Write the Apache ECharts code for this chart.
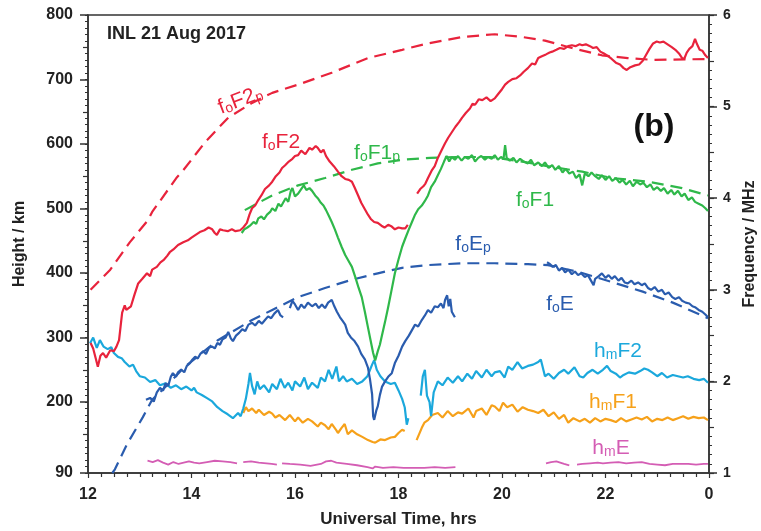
<!DOCTYPE html>
<html>
<head>
<meta charset="utf-8">
<script src="https://cdn.jsdelivr.net/npm/echarts@6/dist/echarts.min.js"></script>
<style>html,body{margin:0;padding:0;background:#fff}#c{width:761px;height:531px}</style>
</head>
<body>
<div id="c"></div>
<script>
// ---- tick definitions ----
const hourTicks = [12, 14, 16, 18, 20, 22, 24];
const heightMajorTicks = [90, 200, 300, 400, 500, 600, 700, 800];
const heightMidTicks = [150, 250, 350, 450, 550, 650, 750];

// ---- frequency series (MHz, right axis) : [UT hour, value] ----
const foF2p = [[12.05,3.0],[12.43,3.22],[12.81,3.52],[13.16,3.76],[13.24,3.85],[13.72,4.23],[13.82,4.29],[14.26,4.61],[14.71,4.88],[15.17,5.04],[15.56,5.15],[16.06,5.24],[16.71,5.37],[17.41,5.53],[18.07,5.62],[18.57,5.69],[19.23,5.76],[19.86,5.79],[20.39,5.76],[20.83,5.72],[21.35,5.64],[21.93,5.56],[22.43,5.53],[22.92,5.51],[23.98,5.52]];

const foF2 = [[12.05,2.42],[12.1,2.36],[12.15,2.25],[12.19,2.16],[12.24,2.28],[12.29,2.31],[12.35,2.26],[12.43,2.34],[12.5,2.33],[12.55,2.38],[12.6,2.45],[12.63,2.6],[12.66,2.75],[12.71,2.83],[12.74,2.78],[12.77,2.76],[12.83,2.82],[12.9,2.95],[12.97,3.07],[13.05,3.12],[13.14,3.18],[13.2,3.15],[13.24,3.22],[13.33,3.25],[13.4,3.3],[13.47,3.33],[13.53,3.37],[13.58,3.41],[13.65,3.44],[13.74,3.49],[13.84,3.52],[13.93,3.54],[14.0,3.57],[14.08,3.6],[14.16,3.63],[14.25,3.65],[14.33,3.68],[14.4,3.66],[14.45,3.62],[14.49,3.6],[14.55,3.66],[14.61,3.65],[14.7,3.64],[14.78,3.66],[14.85,3.64],[14.94,3.65],[15.0,3.68],[15.07,3.73],[15.12,3.82],[15.17,3.89],[15.23,3.92],[15.29,3.98],[15.35,4.03],[15.42,4.1],[15.5,4.14],[15.56,4.18],[15.63,4.24],[15.7,4.28],[15.75,4.33],[15.81,4.36],[15.88,4.4],[15.95,4.43],[16.0,4.46],[16.06,4.47],[16.12,4.52],[16.2,4.48],[16.28,4.55],[16.33,4.53],[16.4,4.57],[16.44,4.55],[16.5,4.5],[16.55,4.53],[16.6,4.46],[16.67,4.4],[16.75,4.35],[16.83,4.29],[16.9,4.24],[16.97,4.21],[17.04,4.2],[17.1,4.18],[17.15,4.12],[17.22,4.03],[17.28,3.95],[17.35,3.88],[17.41,3.82],[17.47,3.77],[17.53,3.74],[17.6,3.73],[17.67,3.7],[17.73,3.68],[17.8,3.71],[17.87,3.69],[17.93,3.66],[18.0,3.68],[18.07,3.67],[18.13,3.67],[18.18,3.71],[18.26,null],[18.36,4.05],[18.42,4.1],[18.48,4.13],[18.52,4.16],[18.57,4.22],[18.64,4.3],[18.7,4.35],[18.76,4.44],[18.83,4.52],[18.9,4.6],[18.96,4.66],[19.03,4.72],[19.1,4.78],[19.17,4.83],[19.23,4.88],[19.3,4.93],[19.38,4.98],[19.43,5.03],[19.48,5.02],[19.55,5.08],[19.62,5.07],[19.7,5.1],[19.78,5.06],[19.86,5.09],[19.93,5.14],[20.0,5.19],[20.06,5.24],[20.12,5.27],[20.2,5.3],[20.28,5.31],[20.35,5.34],[20.42,5.38],[20.5,5.42],[20.58,5.47],[20.64,5.46],[20.7,5.53],[20.77,5.55],[20.85,5.57],[20.92,5.59],[20.97,5.6],[21.05,5.62],[21.12,5.64],[21.2,5.63],[21.28,5.66],[21.35,5.67],[21.42,5.66],[21.5,5.68],[21.55,5.67],[21.62,5.68],[21.7,5.66],[21.76,5.64],[21.83,5.65],[21.9,5.6],[21.97,5.58],[22.05,5.55],[22.12,5.52],[22.2,5.48],[22.28,5.46],[22.35,5.42],[22.41,5.4],[22.48,5.43],[22.57,5.45],[22.65,5.46],[22.72,5.5],[22.78,5.56],[22.85,5.63],[22.92,5.69],[22.99,5.71],[23.05,5.7],[23.12,5.71],[23.2,5.68],[23.28,5.65],[23.35,5.62],[23.42,5.58],[23.48,5.53],[23.52,5.52],[23.57,5.59],[23.62,5.63],[23.68,5.66],[23.73,5.74],[23.77,5.68],[23.82,5.62],[23.87,5.61],[23.93,5.56],[23.98,5.53]];

const foF1p = [[15.03,3.87],[15.56,4.03],[16.06,4.14],[16.58,4.22],[17.1,4.31],[17.6,4.38],[18.07,4.42],[18.61,4.44],[19.19,4.45],[19.77,4.45],[20.39,4.4],[20.97,4.34],[21.55,4.29],[22.13,4.22],[22.82,4.18],[23.48,4.11],[23.98,4.03]];

const foF1 = [[14.97,3.62],[15.02,3.66],[15.08,3.68],[15.13,3.7],[15.2,3.74],[15.25,3.72],[15.29,3.78],[15.35,3.8],[15.4,3.77],[15.46,3.82],[15.52,3.85],[15.56,3.89],[15.62,3.86],[15.68,3.94],[15.73,3.91],[15.77,3.95],[15.82,4.0],[15.87,3.96],[15.92,4.08],[15.95,4.11],[16.0,4.02],[16.06,4.05],[16.12,4.1],[16.17,4.14],[16.22,4.09],[16.28,4.11],[16.33,4.08],[16.39,4.03],[16.44,4.0],[16.5,3.95],[16.55,3.92],[16.6,3.87],[16.66,3.8],[16.71,3.74],[16.77,3.66],[16.83,3.57],[16.9,3.47],[16.97,3.38],[17.03,3.32],[17.1,3.25],[17.17,3.13],[17.23,3.02],[17.29,2.92],[17.35,2.76],[17.41,2.59],[17.46,2.45],[17.51,2.31],[17.55,2.23],[17.6,2.33],[17.64,2.4],[17.68,2.5],[17.74,2.65],[17.8,2.81],[17.86,2.98],[17.93,3.18],[18.0,3.33],[18.07,3.47],[18.13,3.56],[18.2,3.66],[18.26,3.74],[18.32,3.82],[18.38,3.88],[18.45,3.92],[18.51,3.97],[18.57,4.03],[18.63,4.12],[18.7,4.18],[18.76,4.25],[18.82,4.32],[18.88,4.4],[18.93,4.46],[18.98,4.4],[19.03,4.45],[19.09,4.42],[19.15,4.46],[19.22,4.41],[19.28,4.45],[19.35,4.43],[19.42,4.47],[19.48,4.4],[19.54,4.44],[19.6,4.46],[19.67,4.42],[19.73,4.45],[19.8,4.43],[19.86,4.47],[19.92,4.42],[19.98,4.45],[20.03,4.43],[20.06,4.58],[20.09,4.44],[20.15,4.41],[20.22,4.44],[20.28,4.39],[20.35,4.43],[20.42,4.4],[20.5,4.38],[20.56,4.42],[20.62,4.36],[20.7,4.39],[20.77,4.35],[20.83,4.39],[20.9,4.33],[20.97,4.36],[21.03,4.31],[21.1,4.35],[21.17,4.28],[21.23,4.32],[21.3,4.27],[21.37,4.29],[21.43,4.22],[21.5,4.26],[21.55,4.14],[21.6,4.27],[21.67,4.24],[21.73,4.28],[21.8,4.24],[21.87,4.21],[21.93,4.25],[22.0,4.2],[22.07,4.24],[22.13,4.19],[22.2,4.22],[22.27,4.17],[22.33,4.2],[22.4,4.15],[22.47,4.19],[22.53,4.13],[22.6,4.18],[22.67,4.15],[22.73,4.17],[22.8,4.12],[22.87,4.15],[22.93,4.09],[23.0,4.12],[23.07,4.08],[23.13,4.11],[23.2,4.05],[23.27,4.09],[23.33,4.04],[23.4,4.08],[23.47,4.02],[23.53,4.05],[23.6,3.98],[23.67,4.01],[23.73,3.96],[23.8,3.94],[23.87,3.92],[23.93,3.89],[23.98,3.86]];

const foEp = [[12.47,1.0],[12.52,1.04],[12.75,1.31],[13.06,1.61],[13.24,1.8],[13.48,1.93],[13.87,2.16],[14.51,2.45],[15.17,2.67],[15.56,2.78],[16.06,2.92],[16.58,3.02],[17.1,3.11],[17.6,3.18],[18.07,3.24],[18.57,3.27],[19.23,3.29],[19.86,3.29],[20.5,3.28],[20.89,3.27],[21.51,3.19],[22.09,3.09],[22.72,2.98],[23.3,2.86],[23.98,2.69]];

const foE = [[13.12,1.8],[13.2,1.82],[13.27,1.78],[13.33,1.88],[13.39,1.93],[13.45,1.9],[13.5,1.98],[13.55,1.95],[13.6,2.05],[13.64,2.09],[13.7,2.05],[13.74,2.1],[13.8,2.13],[13.86,2.1],[13.91,2.17],[13.97,2.2],[14.02,2.24],[14.07,2.27],[14.12,2.25],[14.17,2.3],[14.23,2.33],[14.28,2.3],[14.34,2.37],[14.4,2.38],[14.45,2.36],[14.5,2.42],[14.55,2.4],[14.6,2.46],[14.66,2.48],[14.71,2.54],[14.76,2.47],[14.8,2.44],[14.86,2.5],[14.92,2.53],[14.98,2.57],[15.04,2.55],[15.1,2.62],[15.17,2.64],[15.23,2.61],[15.3,2.66],[15.36,2.63],[15.42,2.67],[15.48,2.71],[15.54,2.69],[15.6,2.74],[15.67,2.78],[15.72,2.72],[15.77,2.7],[15.84,null],[15.9,2.8],[15.95,2.88],[16.0,2.84],[16.06,2.78],[16.12,2.84],[16.18,2.8],[16.25,2.86],[16.33,2.82],[16.4,2.85],[16.46,2.8],[16.52,2.84],[16.58,2.8],[16.64,2.86],[16.71,2.89],[16.76,2.82],[16.81,2.76],[16.87,2.7],[16.92,2.66],[16.97,2.62],[17.02,2.53],[17.08,2.48],[17.15,2.44],[17.22,2.38],[17.28,2.3],[17.35,2.24],[17.41,2.15],[17.45,2.02],[17.49,1.86],[17.51,1.62],[17.53,1.58],[17.57,1.68],[17.6,1.73],[17.64,1.85],[17.68,1.94],[17.74,2.0],[17.8,2.05],[17.87,2.09],[17.93,2.2],[18.0,2.28],[18.07,2.38],[18.13,2.44],[18.2,2.5],[18.26,2.56],[18.32,2.62],[18.38,2.6],[18.45,2.67],[18.51,2.72],[18.57,2.78],[18.63,2.75],[18.7,2.82],[18.76,2.81],[18.82,2.85],[18.87,2.8],[18.9,2.89],[18.94,2.94],[18.97,2.82],[19.0,2.9],[19.03,2.76],[19.07,2.72],[19.09,2.7],[20.0,null],[20.87,3.3],[20.93,3.28],[20.98,3.25],[21.04,3.27],[21.1,3.21],[21.16,3.24],[21.22,3.19],[21.28,3.22],[21.35,3.17],[21.41,3.2],[21.47,3.16],[21.53,3.18],[21.6,3.14],[21.66,3.16],[21.72,3.1],[21.77,3.05],[21.8,3.12],[21.87,3.15],[21.93,3.18],[22.0,3.13],[22.06,3.16],[22.12,3.12],[22.18,3.15],[22.25,3.1],[22.31,3.13],[22.37,3.08],[22.43,3.07],[22.5,3.1],[22.56,3.06],[22.63,3.08],[22.7,3.05],[22.76,3.07],[22.82,3.02],[22.88,3.0],[22.95,3.03],[23.02,2.98],[23.09,3.0],[23.15,2.95],[23.22,2.97],[23.29,2.92],[23.35,2.9],[23.42,2.92],[23.48,2.88],[23.55,2.86],[23.62,2.85],[23.68,2.82],[23.73,2.81],[23.8,2.78],[23.87,2.76],[23.93,2.73],[23.98,2.7]];

// ---- height series (km, left axis) ----
const hmF2 = [[12.04,291],[12.1,300],[12.17,284],[12.23,296],[12.3,286],[12.38,282],[12.45,285],[12.5,276],[12.58,270],[12.65,268],[12.71,262],[12.8,255],[12.87,258],[12.93,248],[13.0,240],[13.1,238],[13.2,231],[13.3,234],[13.39,226],[13.5,229],[13.6,222],[13.7,226],[13.8,220],[13.9,224],[14.0,218],[14.05,222],[14.1,215],[14.2,211],[14.3,206],[14.4,201],[14.5,192],[14.6,186],[14.7,181],[14.8,175],[14.9,183],[14.95,178],[15.0,190],[15.05,205],[15.1,228],[15.13,245],[15.17,225],[15.22,212],[15.27,232],[15.32,220],[15.4,226],[15.5,215],[15.56,228],[15.65,220],[15.72,236],[15.8,222],[15.87,230],[15.95,218],[16.0,232],[16.1,224],[16.18,238],[16.25,220],[16.33,230],[16.44,222],[16.5,238],[16.58,232],[16.65,250],[16.72,236],[16.8,255],[16.85,232],[16.93,240],[17.0,232],[17.1,236],[17.2,228],[17.3,232],[17.4,240],[17.49,258],[17.53,265],[17.58,250],[17.65,240],[17.74,232],[17.85,228],[17.93,230],[18.0,218],[18.07,205],[18.12,192],[18.16,165],[18.19,175],[18.3,null],[18.43,210],[18.47,240],[18.51,250],[18.55,210],[18.6,200],[18.63,178],[18.68,215],[18.76,232],[18.85,226],[18.95,238],[19.05,230],[19.15,240],[19.23,232],[19.33,244],[19.42,236],[19.5,248],[19.61,238],[19.7,250],[19.8,240],[19.86,246],[19.96,248],[20.05,238],[20.12,255],[20.2,250],[20.3,262],[20.39,252],[20.5,256],[20.6,258],[20.7,262],[20.75,266],[20.83,240],[20.9,244],[21.0,236],[21.1,245],[21.2,250],[21.28,244],[21.4,254],[21.5,240],[21.57,238],[21.65,245],[21.75,250],[21.85,244],[21.95,250],[22.03,256],[22.1,248],[22.2,244],[22.28,238],[22.35,242],[22.45,246],[22.57,244],[22.67,248],[22.75,252],[22.82,250],[22.9,246],[23.0,240],[23.09,245],[23.19,238],[23.3,242],[23.4,240],[23.5,238],[23.59,240],[23.7,236],[23.81,234],[23.9,236],[23.98,230]];

const hmF1 = [[15.0,183],[15.05,192],[15.1,186],[15.17,190],[15.25,183],[15.3,188],[15.4,180],[15.5,185],[15.56,182],[15.62,176],[15.7,180],[15.81,172],[15.9,180],[16.0,170],[16.06,176],[16.15,168],[16.25,174],[16.33,170],[16.44,162],[16.5,168],[16.58,164],[16.65,158],[16.71,166],[16.8,156],[16.83,152],[16.9,160],[16.96,166],[17.02,150],[17.1,156],[17.2,150],[17.3,146],[17.41,141],[17.5,138],[17.55,137],[17.65,142],[17.74,141],[17.85,145],[17.93,146],[18.0,152],[18.07,157],[18.12,155],[18.25,null],[18.35,141],[18.45,160],[18.5,168],[18.57,172],[18.65,180],[18.76,183],[18.85,176],[18.95,186],[19.05,178],[19.15,184],[19.23,182],[19.35,190],[19.45,176],[19.5,186],[19.61,190],[19.7,180],[19.8,195],[19.86,193],[19.95,186],[20.02,199],[20.1,192],[20.2,196],[20.3,185],[20.4,192],[20.5,188],[20.6,186],[20.7,183],[20.8,188],[20.9,178],[21.0,184],[21.1,174],[21.2,180],[21.28,168],[21.38,175],[21.5,170],[21.6,174],[21.7,168],[21.8,175],[21.9,170],[22.0,174],[22.1,172],[22.2,169],[22.3,175],[22.4,170],[22.5,173],[22.6,176],[22.7,173],[22.8,177],[22.9,170],[23.0,174],[23.1,172],[23.2,176],[23.3,172],[23.4,175],[23.5,178],[23.6,174],[23.7,177],[23.8,175],[23.9,176],[23.98,172]];

const hmE = [[13.15,109],[13.25,107],[13.35,110],[13.45,106],[13.55,103],[13.65,107],[13.75,104],[13.85,106],[13.95,108],[14.05,106],[14.15,105],[14.3,107],[14.45,109],[14.6,108],[14.75,107],[14.88,105],[14.94,null],[15.0,107],[15.15,108],[15.3,106],[15.45,105],[15.55,104],[15.65,103],[15.7,null],[15.75,105],[15.9,104],[16.1,103],[16.3,101],[16.5,104],[16.6,108],[16.7,109],[16.8,106],[17.0,104],[17.2,102],[17.4,99],[17.5,97],[17.55,100],[17.7,98],[17.9,99],[18.1,98],[18.3,98],[18.5,98],[18.7,99],[18.9,98],[19.1,99],[20.0,null],[20.85,105],[20.95,107],[21.05,108],[21.2,104],[21.3,102],[21.38,null],[21.45,103],[21.55,104],[21.7,105],[21.85,106],[21.95,105],[22.1,106],[22.25,107],[22.4,105],[22.55,106],[22.7,107],[22.85,104],[23.0,103],[23.15,102],[23.3,104],[23.45,104],[23.6,104],[23.75,103],[23.9,104],[23.98,104]];

// ---- styling ----
const C = {red:'#e8233c', green:'#2fb84a', blue:'#2a5cae', cyan:'#1ba8dc', orange:'#f6a11a', pink:'#d45db4'};
const FF = '"Liberation Sans", Arial, Helvetica, sans-serif';
const axCol = '#333';
const txtCol = '#222';

function lineSeries(name, data, color, yIdx, dashed, width) {
  return {
    name, type:'line', data, xAxisIndex:0, yAxisIndex:yIdx,
    showSymbol:false, symbol:'none', connectNulls:false, smooth:false,
    lineStyle:{color, width: width || 2.2, type: dashed ? [12,7] : 'solid'},
    itemStyle:{color}, z: dashed ? 2 : 3, silent:true
  };
}

function label(x, y, main1, sub1, main2, sub2, color, rot) {
  let txt = '{m|' + main1 + '}{s|' + sub1 + '}{m|' + main2 + '}' + (sub2 ? '{s|' + sub2 + '}' : '');
  return {
    type:'text', x, y, rotation: rot || 0, z:10,
    style:{
      text: txt, align:'center', verticalAlign:'middle', fill: color,
      rich:{
        m:{fontSize:21, fontFamily:FF, fill:color, lineHeight:24, verticalAlign:'bottom'},
        s:{fontSize:14, fontFamily:FF, fill:color, lineHeight:13, verticalAlign:'bottom'}
      }
    }
  };
}

const chart = echarts.init(document.getElementById('c'), null, {renderer:'canvas'});
chart.setOption({
  animation:false,
  backgroundColor:'#fff',
  grid:{left:88, right:52, top:15, bottom:58, outerBoundsMode:'none', containLabel:false,
        show:true, borderColor:axCol, borderWidth:1.5, backgroundColor:'transparent'},
  xAxis:[{
    type:'value', min:12, max:24, interval:2, position:'bottom',
    axisLine:{show:true, lineStyle:{color:axCol, width:1.5}},
    axisTick:{show:true, length:5, inside:false, lineStyle:{color:axCol, width:1.2}},
    minorTick:{show:true, splitNumber:8, length:4, lineStyle:{color:axCol, width:1.2}},
    splitLine:{show:false},
    axisLabel:{formatter: v => (v === 24 ? '0' : String(v)), fontSize:16, fontWeight:'bold', color:txtCol, fontFamily:FF, margin:14, customValues: hourTicks},
    name:'Universal Time, hrs', nameLocation:'middle', nameGap:38,
    nameTextStyle:{fontSize:17, fontWeight:'bold', color:txtCol, fontFamily:FF}
  }],
  yAxis:[
    { // 0: height, left
      type:'value', min:90, max:800, position:'left',
      axisLine:{show:true, lineStyle:{color:axCol, width:1.5}},
      axisTick:{show:true, customValues: heightMajorTicks, length:8, lineStyle:{color:axCol, width:1.5}},
      axisLabel:{customValues: heightMajorTicks, fontSize:16, fontWeight:'bold', color:txtCol, fontFamily:FF, margin:15},
      splitLine:{show:false},
      name:'Height / km', nameLocation:'middle', nameGap:60, nameRotate:90,
      nameTextStyle:{fontSize:16, fontWeight:'bold', color:txtCol, fontFamily:FF}
    },
    { // 1: frequency, right
      type:'value', min:1, max:6, interval:1, position:'right',
      axisLine:{show:true, lineStyle:{color:axCol, width:1.5}},
      axisTick:{show:true, length:8, lineStyle:{color:axCol, width:1.5}},
      minorTick:{show:true, splitNumber:10, length:3, lineStyle:{color:axCol, width:1}},
      axisLabel:{fontSize:14, fontWeight:'bold', color:txtCol, fontFamily:FF, margin:14},
      splitLine:{show:false}, minorSplitLine:{show:false},
      name:'Frequency / MHz', nameLocation:'middle', nameGap:30, nameRotate:90,
      nameTextStyle:{fontSize:16, fontWeight:'bold', color:txtCol, fontFamily:FF}
    },
    { // 2: left minor ticks every 10 km
      type:'value', min:90, max:800, interval:10, position:'left',
      axisLine:{show:false}, axisLabel:{show:false}, splitLine:{show:false},
      axisTick:{show:true, length:3, lineStyle:{color:axCol, width:1}}
    },
    { // 3: left medium ticks at 50s
      type:'value', min:90, max:800, position:'left',
      axisLine:{show:false}, axisLabel:{show:false}, splitLine:{show:false},
      axisTick:{show:true, customValues: heightMidTicks, length:5, lineStyle:{color:axCol, width:1.2}}
    },
    { // 4: right medium ticks at 0.5 MHz
      type:'value', min:1, max:6, interval:0.5, position:'right',
      axisLine:{show:false}, axisLabel:{show:false}, splitLine:{show:false},
      axisTick:{show:true, length:5, lineStyle:{color:axCol, width:1.2}}
    }
  ],
  series:[
    lineSeries('hmE', hmE, C.pink, 0, false, 1.8),
    lineSeries('hmF1', hmF1, C.orange, 0, false),
    lineSeries('hmF2', hmF2, C.cyan, 0, false),
    lineSeries('foEp', foEp, C.blue, 1, true),
    lineSeries('foF1p', foF1p, C.green, 1, true),
    lineSeries('foF2p', foF2p, C.red, 1, true),
    lineSeries('foE', foE, C.blue, 1, false),
    lineSeries('foF1', foF1, C.green, 1, false),
    lineSeries('foF2', foF2, C.red, 1, false)
  ],
  graphic:[
    {type:'text', x:107, y:34, z:10, style:{text:'INL 21 Aug 2017', fontSize:18, fontWeight:'bold', fontFamily:FF, fill:txtCol, align:'left', verticalAlign:'middle'}},
    {type:'text', x:654, y:127, z:10, style:{text:'(b)', fontSize:32, fontWeight:'bold', fontFamily:FF, fill:'#111', align:'center', verticalAlign:'middle'}},
    label(240, 99, 'f', 'o', 'F2', 'p', C.red, 0.36),
    label(281, 141, 'f', 'o', 'F2', '', C.red, 0),
    label(377, 152, 'f', 'o', 'F1', 'p', C.green, 0),
    label(535, 199, 'f', 'o', 'F1', '', C.green, 0),
    label(473, 243, 'f', 'o', 'E', 'p', C.blue, 0),
    label(560, 303, 'f', 'o', 'E', '', C.blue, 0),
    label(618, 350, 'h', 'm', 'F2', '', C.cyan, 0),
    label(613, 401, 'h', 'm', 'F1', '', C.orange, 0),
    label(611, 447, 'h', 'm', 'E', '', C.pink, 0)
  ]
});
</script>
</body>
</html>
